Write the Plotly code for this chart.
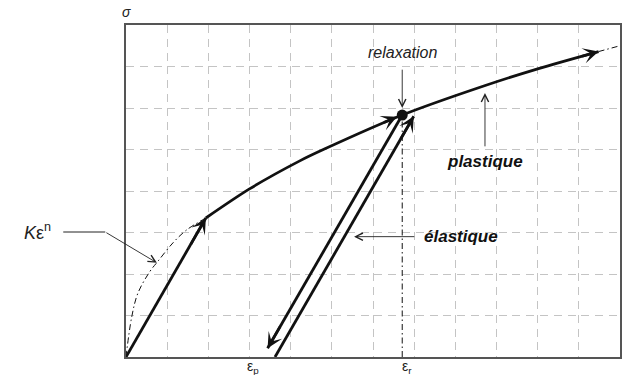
import plotly.graph_objects as go

# Stress-strain curve (strain, stress) in grid units
hollomon_x = [0, 0.14, 0.29, 0.58, 0.77, 1.14, 1.47, 1.94]
hollomon_y = [0, 0.97, 1.54, 2.06, 2.30, 2.75, 3.06, 3.35]

plastic_x = [1.94, 3.0, 4.21, 4.82, 6.71, 8.69, 10.02, 11.48]
plastic_y = [3.35, 4.05, 4.72, 5.01, 5.83, 6.53, 6.95, 7.36]

tail_x = [11.48, 12.0]
tail_y = [7.36, 7.50]

# Elastic segments
load_x = [0, 1.94]
load_y = [0, 3.35]
unload_x = [6.71, 3.44]
unload_y = [5.83, 0.21]
reload_x = [3.62, 6.99]
reload_y = [0, 5.80]

# Relaxation point and its strain
relax_x = 6.71
relax_y = 5.83
eps_p_x = 2.88

INK = "#111111"
FONT = "Liberation Sans, Arial, sans-serif"
DASHDOT = "6px,3px,1.5px,3px"

fig = go.Figure()

fig.add_trace(go.Scatter(x=hollomon_x, y=hollomon_y, mode="lines",
                         line=dict(color=INK, width=1, dash=DASHDOT, shape="spline")))
fig.add_trace(go.Scatter(x=tail_x, y=tail_y, mode="lines",
                         line=dict(color=INK, width=1, dash=DASHDOT)))
fig.add_trace(go.Scatter(x=plastic_x, y=plastic_y, mode="lines",
                         line=dict(color=INK, width=2.8, shape="spline", smoothing=0.8)))
for xs, ys in [(load_x, load_y), (unload_x, unload_y), (reload_x, reload_y)]:
    fig.add_trace(go.Scatter(x=xs, y=ys, mode="lines", line=dict(color=INK, width=2.8)))

# vertical line at the relaxation strain
fig.add_trace(go.Scatter(x=[relax_x, relax_x], y=[0, relax_y], mode="lines",
                         line=dict(color=INK, width=1, dash=DASHDOT)))
fig.add_trace(go.Scatter(x=[relax_x], y=[relax_y], mode="markers",
                         marker=dict(color=INK, size=11)))


def head(xs, ys, frac=0.12):
    """Arrowhead at the last point of a segment."""
    x1, y1 = xs[-1], ys[-1]
    x0, y0 = xs[-2], ys[-2]
    bx = x1 - (x1 - x0) * frac
    by = y1 - (y1 - y0) * frac
    fig.add_annotation(x=x1, y=y1, ax=bx, ay=by, xref="x", yref="y",
                       axref="x", ayref="y", text="", showarrow=True,
                       arrowhead=3, arrowsize=1.0, arrowwidth=2.6,
                       arrowcolor=INK, standoff=0)


head(load_x, load_y, 0.2)
head(unload_x, unload_y, 0.1)
head(reload_x, reload_y, 0.1)
head([plastic_x[3], 6.58], [plastic_y[3], 5.79], 0.2)
head(plastic_x[-2:], plastic_y[-2:], 0.3)


def thin_arrow(x, y, ax, ay):
    fig.add_annotation(x=x, y=y, ax=ax, ay=ay, xref="x", yref="y",
                       axref="x", ayref="y", text="", showarrow=True,
                       arrowhead=5, arrowsize=1.6, arrowwidth=0.9,
                       arrowcolor="#222", standoff=0)


thin_arrow(relax_x, 6.0, relax_x, 6.96)
thin_arrow(8.72, 6.36, 8.72, 5.04)
thin_arrow(5.54, 2.90, 7.04, 2.90)

fig.add_annotation(x=6.72, y=7.33, xref="x", yref="y", text="<i>relaxation</i>",
                   showarrow=False, font=dict(family=FONT, size=16, color="#222"))
fig.add_annotation(x=8.72, y=4.70, xref="x", yref="y", text="<b><i>plastique</i></b>",
                   showarrow=False, font=dict(family=FONT, size=17, color="#111"))
fig.add_annotation(x=8.14, y=2.90, xref="x", yref="y", text="<b><i>élastique</i></b>",
                   showarrow=False, font=dict(family=FONT, size=17, color="#111"))

# K eps^n label with elbow leader
fig.add_annotation(x=-0.147, y=0.378, xref="paper", yref="paper", xanchor="right",
                   text="<i>K</i>ε<sup>n</sup>", showarrow=False,
                   font=dict(family=FONT, size=18, color="#222"))
fig.add_shape(type="line", xref="paper", yref="paper", x0=-0.127, x1=-0.042,
              y0=0.3765, y1=0.3765, line=dict(color="#222", width=1))
fig.add_annotation(x=0.75, y=2.27, xref="x", yref="y", ax=-52, ay=-31,
                   text="", showarrow=True, arrowhead=5, arrowsize=1.6,
                   arrowwidth=0.9, arrowcolor="#222", standoff=0)

fig.add_annotation(x=0.0, y=1.0, xref="paper", yref="paper", yanchor="bottom",
                   xanchor="center", yshift=3, text="<i>σ</i>", showarrow=False,
                   font=dict(family=FONT, size=14, color="#222"))
fig.add_annotation(x=eps_p_x, y=0, xref="x", yref="paper", xanchor="left",
                   yanchor="top", yshift=1, text="ε<sub>p</sub>", showarrow=False,
                   font=dict(family=FONT, size=14, color="#222"))
fig.add_annotation(x=relax_x - 0.05, y=0, xref="x", yref="paper", xanchor="left",
                   yanchor="top", yshift=1, text="ε<sub>r</sub>", showarrow=False,
                   font=dict(family=FONT, size=14, color="#222"))

axis_common = dict(showgrid=True, gridcolor="#c4c4c4", gridwidth=1,
                   griddash="8px,5.8px", dtick=1, tick0=0, showticklabels=False,
                   ticks="", zeroline=False, showline=True, linecolor="#555",
                   linewidth=1.5, mirror=True, fixedrange=True)

fig.update_layout(
    width=626, height=375,
    margin=dict(l=126, r=4, t=25, b=18),
    paper_bgcolor="white", plot_bgcolor="white",
    showlegend=False,
    xaxis=dict(range=[0, 12], **axis_common),
    yaxis=dict(range=[0, 8], **axis_common),
)

fig.write_html("out.html")
